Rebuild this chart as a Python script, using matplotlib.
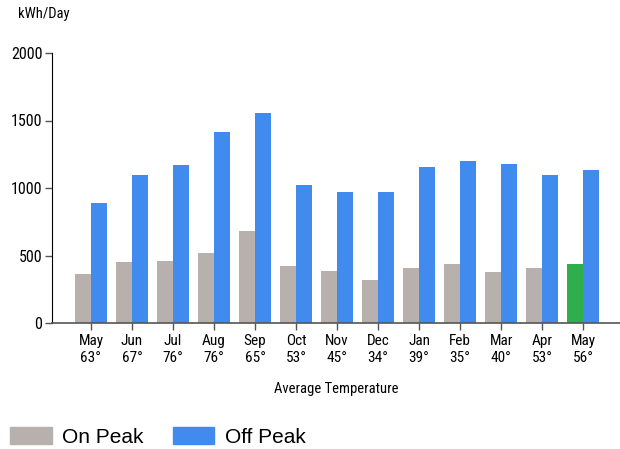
import numpy as np
import matplotlib.pyplot as plt
from matplotlib.patches import Patch

months = ['May', 'Jun', 'Jul', 'Aug', 'Sep', 'Oct', 'Nov', 'Dec', 'Jan', 'Feb', 'Mar', 'Apr', 'May']
temps = [63, 67, 76, 76, 65, 53, 45, 34, 39, 35, 40, 53, 56]
on_peak = [360, 455, 460, 520, 685, 425, 385, 320, 410, 435, 380, 410, 440]
off_peak = [890, 1100, 1170, 1415, 1555, 1020, 970, 970, 1155, 1200, 1180, 1100, 1133]

GRAY = '#b8b0ac'
BLUE = '#418bee'
GREEN = '#2fae4e'
NARROW = ['Roboto Condensed', 'DejaVu Sans']
REGULAR = ['Liberation Sans', 'DejaVu Sans']

fig = plt.figure(figsize=(6.2, 4.49), dpi=100)
ax = fig.add_axes([52 / 620, 1 - 323 / 449, 568 / 620, 270 / 449])

x = np.arange(len(months))
w = 0.39
on_colors = [GRAY] * (len(months) - 1) + [GREEN]
ax.bar(x - w / 2, on_peak, w, color=on_colors, linewidth=0)
ax.bar(x + w / 2, off_peak, w, color=BLUE, linewidth=0)

ax.set_xlim(-0.95, 12.9)
ax.set_ylim(0, 2000)
ax.set_yticks([0, 500, 1000, 1500, 2000])
ax.set_xticks(x)
ax.set_xticklabels([f'{m}\n{t}°' for m, t in zip(months, temps)],
                   fontfamily=NARROW, fontsize=11, linespacing=1.25)
for lbl in ax.get_yticklabels():
    lbl.set_fontfamily(NARROW)
    lbl.set_fontsize(11.5)

ax.spines['top'].set_visible(False)
ax.spines['right'].set_visible(False)
ax.spines['left'].set_color('black')
ax.spines['bottom'].set_color('#555555')
ax.spines['bottom'].set_linewidth(1.2)
ax.tick_params(axis='y', length=5, width=1, color='#555555', pad=2)
ax.tick_params(axis='x', length=5, width=1, color='#555555', pad=3)

ax.set_xlabel('Average Temperature', fontfamily=NARROW, fontsize=10.5, labelpad=12)
fig.text(18 / 620, 1 - 14 / 449, 'kWh/Day', fontfamily=NARROW, fontsize=10.5, va='center')

handles = [Patch(color=GRAY, label='On Peak'), Patch(color=BLUE, label='Off Peak')]
fig.legend(handles=handles, loc='center left', bbox_to_anchor=(10 / 620, 1 - 437 / 449), ncol=2,
           frameon=False, prop={'family': REGULAR, 'size': 15}, handlelength=2.0,
           handleheight=0.85, handletextpad=0.5, columnspacing=1.4,
           borderaxespad=0, borderpad=0)

fig.savefig('out.png', dpi=100)
